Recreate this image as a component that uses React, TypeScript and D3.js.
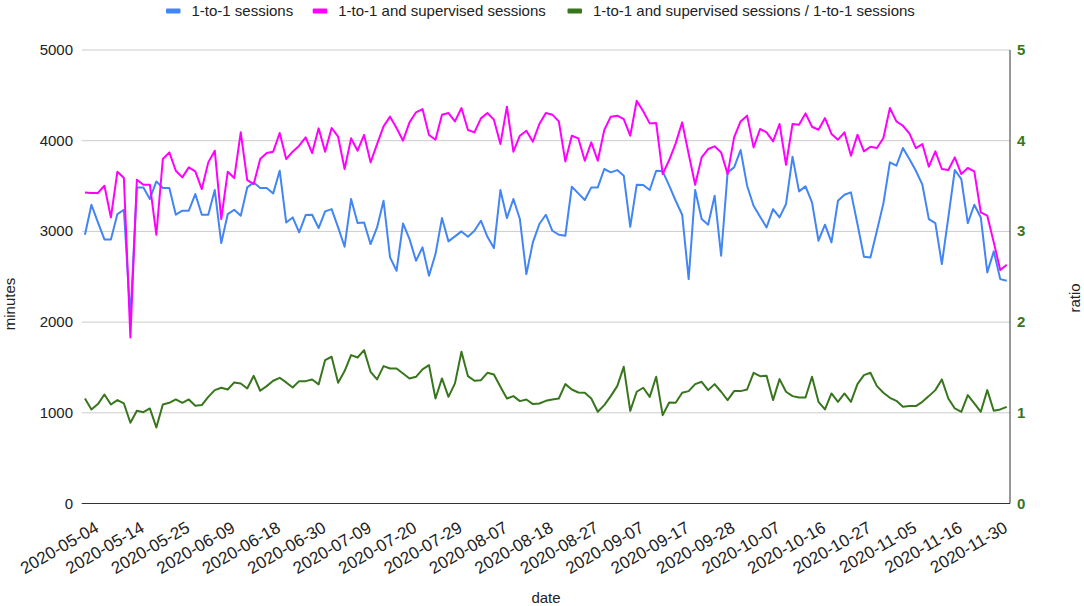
import React from "react";
import * as d3 from "d3";

const tickLabels = [
  "2020-05-04", "2020-05-14", "2020-05-25", "2020-06-09", "2020-06-18", "2020-06-30",
  "2020-07-09", "2020-07-20", "2020-07-29", "2020-08-07", "2020-08-18", "2020-08-27",
  "2020-09-07", "2020-09-17", "2020-09-28", "2020-10-07", "2020-10-16", "2020-10-27",
  "2020-11-05", "2020-11-16", "2020-11-30",
];
const tickEvery = 7;

const oneToOne = [
  2963, 3294, 3099, 2912, 2912, 3191, 3239, 2050, 3485, 3485, 3357, 3551, 3478, 3478, 3184, 3228,
  3228, 3412, 3184, 3184, 3456, 2871, 3191, 3239, 3173, 3485, 3540, 3478, 3478, 3419, 3669, 3099,
  3154, 2989, 3180, 3184, 3037, 3221, 3246, 3044, 2831, 3357, 3092, 3099, 2860, 3044, 3338, 2713,
  2566, 3088, 2915, 2676, 2824, 2511, 2750, 3147, 2890, 2945, 3000, 2941, 3007, 3118, 2941, 2816,
  3456, 3147, 3357, 3136, 2529, 2879, 3081, 3184, 3007, 2963, 2952, 3493, 3419, 3346, 3485, 3485,
  3688, 3651, 3676, 3614, 3051, 3515, 3511, 3456, 3669, 3662, 3504, 3338, 3184, 2474, 3456, 3136,
  3074, 3393, 2732, 3651, 3706, 3897, 3504, 3283, 3162, 3044, 3246, 3154, 3302, 3824, 3441, 3496,
  3320, 2897, 3074, 2879, 3338, 3404, 3430, 3081, 2721, 2713, 3007, 3309, 3761, 3724, 3919, 3798,
  3669, 3515, 3136, 3092, 2640, 3154, 3677, 3577, 3092, 3294, 3154, 2548, 2780, 2474, 2456,
];

const withSupervised = [
  3430, 3423, 3423, 3504, 3154, 3658, 3588, 1831, 3570, 3515, 3515, 2963, 3798, 3871, 3669, 3596,
  3706, 3662, 3467, 3761, 3890, 3136, 3658, 3588, 4092, 3566, 3522, 3798, 3864, 3879, 4085, 3798,
  3879, 3945, 4037, 3864, 4136, 3879, 4140, 4044, 3688, 4026, 3890, 4063, 3761, 3963, 4158, 4265,
  4140, 4000, 4202, 4313, 4349, 4063, 4011, 4287, 4305, 4213, 4360, 4118, 4092, 4246, 4305, 4232,
  3963, 4375, 3879, 4055, 4110, 3989, 4184, 4305, 4287, 4213, 3772, 4055, 4026, 3779, 3982, 3779,
  4118, 4265, 4276, 4239, 4055, 4441, 4324, 4191, 4195, 3632, 3787, 3971, 4202, 3853, 3515, 3816,
  3908, 3938, 3871, 3632, 4037, 4213, 4276, 3926, 4129, 4092, 3993, 4184, 3735, 4184, 4176, 4301,
  4154, 4121, 4250, 4074, 4011, 4092, 3835, 4066, 3882, 3934, 3919, 4029, 4360, 4213, 4165, 4081,
  3919, 3963, 3713, 3882, 3688, 3677, 3816, 3632, 3699, 3662, 3210, 3173, 2879, 2574, 2632,
];

const ratio = [
  1.158, 1.037, 1.096, 1.202, 1.092, 1.14, 1.103, 0.89, 1.022, 1.007, 1.048, 0.838, 1.092, 1.11, 1.147, 1.11,
  1.147, 1.077, 1.085, 1.176, 1.25, 1.276, 1.257, 1.335, 1.324, 1.268, 1.408, 1.243, 1.294, 1.353, 1.386, 1.335,
  1.279, 1.349, 1.349, 1.368, 1.313, 1.581, 1.618, 1.331, 1.46, 1.636, 1.61, 1.691, 1.452, 1.368, 1.515, 1.489,
  1.489, 1.434, 1.379, 1.397, 1.478, 1.526, 1.158, 1.379, 1.176, 1.324, 1.673, 1.404, 1.353, 1.36, 1.441, 1.423,
  1.287, 1.158, 1.184, 1.129, 1.147, 1.096, 1.103, 1.132, 1.147, 1.158, 1.316, 1.257, 1.224, 1.221, 1.158, 1.011,
  1.085, 1.184, 1.294, 1.507, 1.022, 1.232, 1.276, 1.176, 1.397, 0.974, 1.114, 1.11, 1.221, 1.239, 1.316, 1.342,
  1.25, 1.316, 1.232, 1.14, 1.239, 1.239, 1.257, 1.441, 1.404, 1.408, 1.14, 1.371, 1.232, 1.184, 1.169, 1.169,
  1.397, 1.121, 1.037, 1.213, 1.121, 1.213, 1.121, 1.316, 1.415, 1.441, 1.294, 1.221, 1.165, 1.132, 1.066, 1.074,
  1.074, 1.121, 1.184, 1.25, 1.368, 1.158, 1.048, 1.011, 1.195, 1.103, 1.011, 1.25, 1.022, 1.037, 1.066,
];

const leftTicks = [0, 1000, 2000, 3000, 4000, 5000];
const rightTicks = [0, 1, 2, 3, 4, 5];

const seriesNames = [
  "1-to-1 sessions",
  "1-to-1 and supervised sessions",
  "1-to-1 and supervised sessions / 1-to-1 sessions",
];
const colors = ["#4285f4", "#ff00ff", "#38761d"];

const W = 1084;
const H = 606;
const FONT = "Arial, 'Liberation Sans', Helvetica, sans-serif";

export default function App() {
  const left = 81.7;
  const right = 1010;
  const top = 50;
  const bottom = 503.5;

  const idx = d3.range(oneToOne.length);
  const x = d3.scalePoint<number>().domain(idx).range([left, right]).padding(0.5);
  const y = d3.scaleLinear().domain([0, 5000]).range([bottom, top]);
  const yr = d3.scaleLinear().domain([0, 5]).range([bottom, top]);

  const lineL = d3
    .line<number>()
    .x((_, i) => x(i) as number)
    .y((d) => y(d));
  const lineR = d3
    .line<number>()
    .x((_, i) => x(i) as number)
    .y((d) => yr(d));

  const legendX = [166, 312.7, 567.5];

  return (
    <div style={{ position: "absolute", left: 0, top: 0, width: W, height: H, background: "#fff" }}>
      <svg width={W} height={H} style={{ display: "block", fontFamily: FONT }}>
        <rect x={0} y={0} width={W} height={H} fill="#ffffff" />
        {/* legend */}
        {seriesNames.map((name, k) => (
          <g key={name}>
            <rect x={legendX[k]} y={8.5} width={14.5} height={5} rx={1} fill={colors[k]} />
            <text x={legendX[k] + 25.5} y={16} fontSize={15} fill="#222">
              {name}
            </text>
          </g>
        ))}
        {/* gridlines */}
        {leftTicks.map((t) => (
          <line
            key={t}
            x1={left}
            x2={right}
            y1={y(t)}
            y2={y(t)}
            stroke={t === 0 ? "#333333" : "#cccccc"}
            strokeWidth={1}
          />
        ))}
        <line x1={right} x2={right} y1={top} y2={bottom} stroke="#333333" strokeWidth={1} />
        {/* left axis labels */}
        {leftTicks.map((t) => (
          <text key={t} x={73} y={y(t) + 5} textAnchor="end" fontSize={15} fill="#222">
            {t}
          </text>
        ))}
        {/* right axis labels */}
        {rightTicks.map((t) => (
          <text
            key={t}
            x={1017}
            y={yr(t) + 5}
            textAnchor="start"
            fontSize={15}
            fontWeight="bold"
            fill={colors[2]}
          >
            {t}
          </text>
        ))}
        {/* x labels */}
        {tickLabels.map((lab, k) => {
          const px = x(k * tickEvery) as number;
          return (
            <text
              key={lab}
              transform={`translate(${px + 15},${531}) rotate(-30)`}
              textAnchor="end"
              fontSize={17}
              fill="#222"
            >
              {lab}
            </text>
          );
        })}
        {/* axis titles */}
        <text transform="translate(14.5,304) rotate(-90)" textAnchor="middle" fontSize={15} fill="#222">
          minutes
        </text>
        <text transform="translate(1080,298) rotate(-90)" textAnchor="middle" fontSize={15} fill="#222">
          ratio
        </text>
        <text x={546} y={603} textAnchor="middle" fontSize={15} fill="#222">
          date
        </text>
        {/* lines */}
        <path d={lineL(oneToOne) || ""} fill="none" stroke={colors[0]} strokeWidth={2} strokeLinejoin="round" />
        <path d={lineL(withSupervised) || ""} fill="none" stroke={colors[1]} strokeWidth={2} strokeLinejoin="round" />
        <path d={lineR(ratio) || ""} fill="none" stroke={colors[2]} strokeWidth={2} strokeLinejoin="round" />
      </svg>
    </div>
  );
}
